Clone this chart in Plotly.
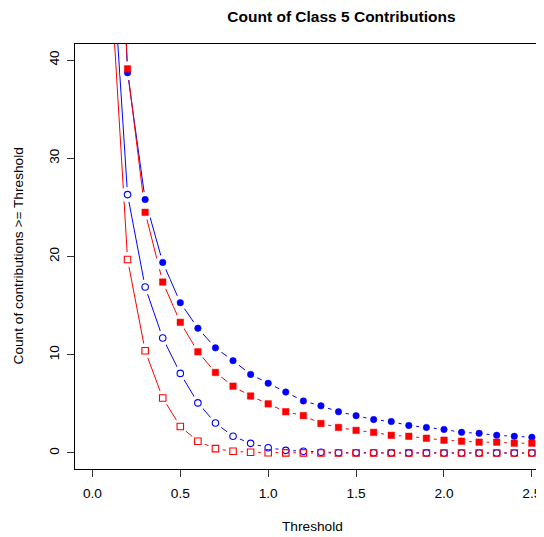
import plotly.graph_objects as go

# Threshold values
thresholds = [0.1, 0.2, 0.3, 0.4, 0.5, 0.6, 0.7, 0.8, 0.9, 1.0,
              1.1, 1.2, 1.3, 1.4, 1.5, 1.6, 1.7, 1.8, 1.9, 2.0,
              2.1, 2.2, 2.3, 2.4, 2.5]

# Series values
blue_filled = [78.0, 38.7, 25.8, 19.4, 15.3, 12.7, 10.7, 9.4, 8.0, 7.1,
               6.2, 5.3, 4.8, 4.2, 3.8, 3.4, 3.2, 2.8, 2.6, 2.4,
               2.1, 2.0, 1.8, 1.7, 1.6]
red_filled = [79.0, 39.1, 24.5, 17.4, 13.3, 10.3, 8.2, 6.8, 5.8, 5.0,
              4.2, 3.8, 3.0, 2.6, 2.3, 2.1, 1.8, 1.7, 1.5, 1.3,
              1.2, 1.1, 1.1, 1.0, 1.0]
blue_open = [54.0, 26.3, 16.9, 11.7, 8.1, 5.1, 3.05, 1.7, 0.98, 0.54,
             0.27, 0.17, 0.07, 0.03, 0.02, 0.02, 0.01, 0.01, 0.01, 0.0,
             0.0, 0.0, 0.0, 0.0, 0.0]
red_open = [49.5, 19.7, 10.4, 5.6, 2.7, 1.2, 0.44, 0.17, 0.07, 0.03,
            0.01, 0.01, 0.0, 0.0, 0.0, 0.0, 0.0, 0.0, 0.0, 0.0,
            0.0, 0.0, 0.0, 0.0, 0.0]

title_text = "Count of Class 5 Contributions"
x_label = "Threshold"
y_label = "Count of contributions >= Threshold"
x_ticks = [0.0, 0.5, 1.0, 1.5, 2.0, 2.5]
x_tick_text = ["0.0", "0.5", "1.0", "1.5", "2.0", "2.5"]
y_ticks = [0, 10, 20, 30, 40]

series = [
    (blue_filled, "#0000FF", "circle", 6.5, 0.5),
    (blue_open, "#0000FF", "circle-open", 6.5, 1.1),
    (red_filled, "#FF0000", "square", 6.5, 0.5),
    (red_open, "#FF0000", "square-open", 6.5, 1.1),
]

fig = go.Figure()

# lines
for vals, col, sym, sz, lw in series:
    fig.add_trace(go.Scatter(x=thresholds, y=vals, mode="lines",
                             line=dict(color=col, width=1),
                             hoverinfo="skip", showlegend=False))
# white gaps around points (type="b" look)
for vals, col, sym, sz, lw in series:
    fig.add_trace(go.Scatter(x=thresholds, y=vals, mode="markers",
                             marker=dict(color="white", size=15, symbol="circle",
                                         line=dict(width=0)),
                             hoverinfo="skip", showlegend=False))
# points
for vals, col, sym, sz, lw in series:
    fig.add_trace(go.Scatter(x=thresholds, y=vals, mode="markers",
                             marker=dict(color=col, size=sz, symbol=sym,
                                         line=dict(color=col, width=lw)),
                             showlegend=False))

font_family = "Liberation Sans, Arial, Helvetica, sans-serif"
# the page body adds an 8px offset; the figure is sized to end at the window edge
W, H = 536, 529
L, R, T, B = 67, 0, 36, 68
plot_w = W - L - R

fig.update_layout(
    width=W, height=H,
    margin=dict(l=L, r=R, t=T, b=B, autoexpand=False),
    paper_bgcolor="white", plot_bgcolor="white",
    font=dict(family=font_family, size=13.7, color="black"),
    title=dict(text="<b>" + title_text + "</b>", x=304.5 / W, xanchor="center",
               xref="paper", y=1, yanchor="top", automargin=False, pad=dict(t=3),
               font=dict(size=15.5, family=font_family, color="black")),
    xaxis=dict(range=[-0.099, 2.569], tickvals=x_ticks, ticktext=x_tick_text,
               showgrid=False, zeroline=False, showline=True, linecolor="black",
               linewidth=1, mirror=True, ticks="outside", ticklen=7, tickcolor="#333",
               ticklabelstandoff=5, automargin=False),
    yaxis=dict(range=[-1.63, 41.63], tickvals=y_ticks,
               showgrid=False, zeroline=False, showline=True, linecolor="black",
               linewidth=1, ticks="outside", ticklen=7, tickcolor="#333",
               tickangle=-90, ticklabelstandoff=3, automargin=False),
    annotations=[
        dict(text=x_label, xref="paper", yref="paper",
             x=(304.5 - L) / plot_w, y=0, yshift=-57,
             xanchor="center", yanchor="middle", showarrow=False,
             font=dict(size=13.7, family=font_family, color="black")),
        dict(text=y_label, xref="paper", yref="paper", textangle=-90,
             x=0, xshift=-57, y=0.5,
             xanchor="center", yanchor="middle", showarrow=False,
             font=dict(size=13.7, family=font_family, color="black")),
    ],
)

fig.write_html("out.html")
